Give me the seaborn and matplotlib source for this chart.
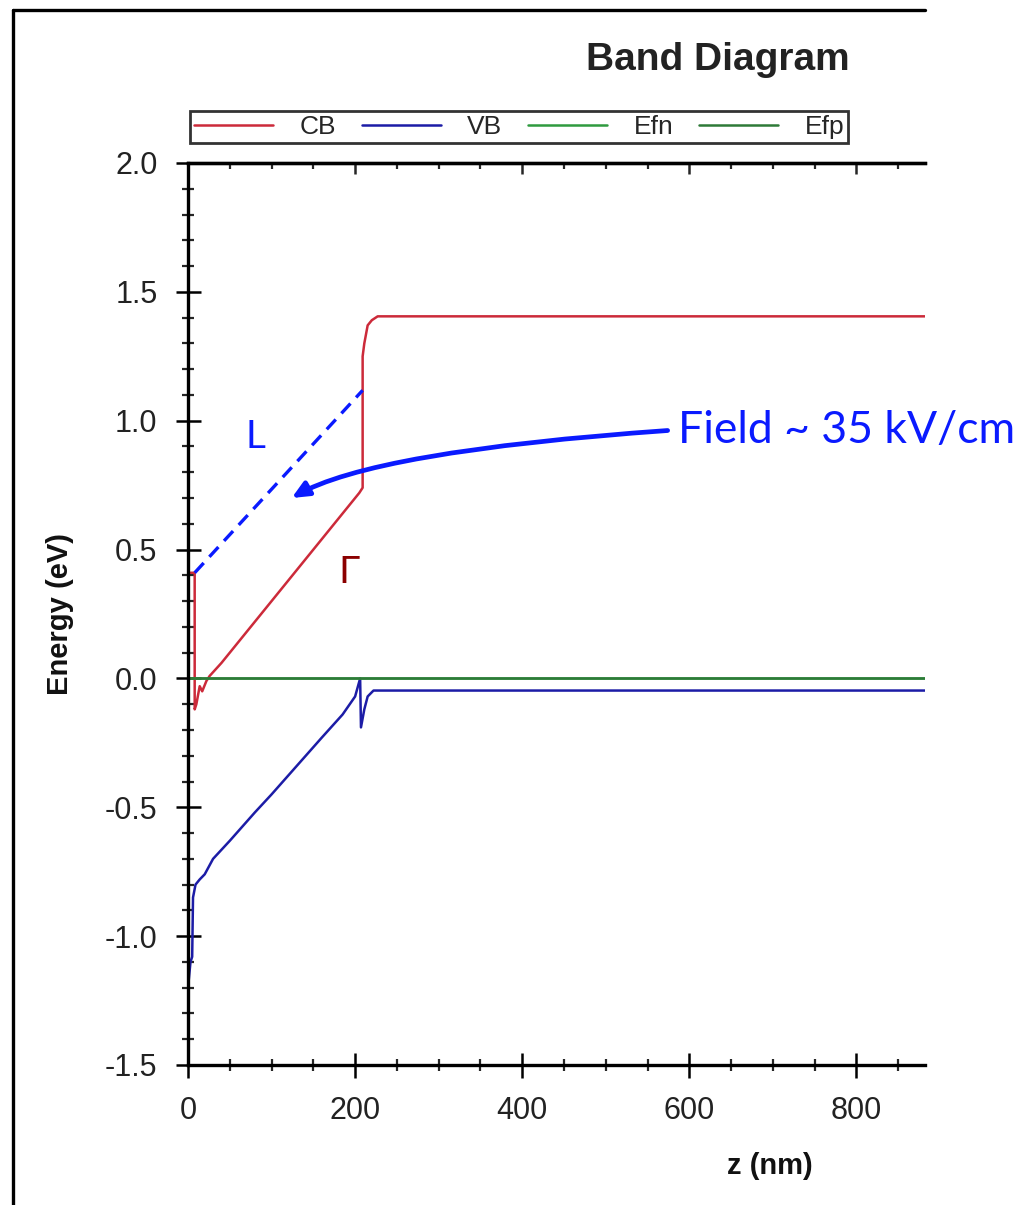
import matplotlib
matplotlib.use("Agg")
import matplotlib.pyplot as plt
from matplotlib.lines import Line2D
from matplotlib.ticker import MultipleLocator, FormatStrFormatter
import seaborn as sns
import pandas as pd

# ---------------- data ----------------
cb_z = [3, 8, 8, 10, 14, 17, 22, 26, 40, 60, 80, 100, 120, 140, 160, 180, 195, 205, 209,
        209, 211, 215, 220, 227, 882]
cb_e = [0.41, 0.41, -0.12, -0.10, -0.03, -0.05, -0.01, 0.01, 0.06, 0.14, 0.22, 0.30, 0.38,
        0.46, 0.54, 0.62, 0.68, 0.72, 0.74, 1.25, 1.30, 1.37, 1.39, 1.405, 1.405]

vb_z = [0, 3, 5, 6, 9, 14, 20, 30, 50, 80, 100, 130, 160, 185, 200, 206, 207, 211, 215, 222, 882]
vb_e = [-1.20, -1.10, -1.08, -0.85, -0.80, -0.78, -0.76, -0.70, -0.63, -0.52, -0.45, -0.34,
        -0.23, -0.14, -0.07, 0.0, -0.19, -0.12, -0.07, -0.047, -0.047]

efn_z = [0, 882]
efn_e = [0.0, 0.0]
efp_z = [0, 882]
efp_e = [0.0, 0.0]

series_names = ["CB", "VB", "Efn", "Efp"]
x_ticks = [0, 200, 400, 600, 800]
y_ticks = [-1.5, -1.0, -0.5, 0.0, 0.5, 1.0, 1.5, 2.0]

title_text = "Band Diagram"
xlabel_text = "z (nm)"
ylabel_text = "Energy (eV)"
field_text = "Field ~ 35 kV/cm"
l_text = "L"
gamma_text = "Γ"

# dashed "L" guide and field arrow (data coordinates)
l_line_z = [8, 209]
l_line_e = [0.41, 1.118]
arrow_tail = (574, 0.962)
arrow_head = (124, 0.70)

# ---------------- styling ----------------
sns.set_style("white")
NARROW = ["Liberation Sans Narrow", "Liberation Sans", "DejaVu Sans"]
plt.rcParams["font.family"] = NARROW
plt.rcParams["axes.unicode_minus"] = False

colors = {"CB": "#cc2a3a", "VB": "#1c1ca6", "Efn": "#2f9a3f", "Efp": "#2e7a38"}

fig = plt.figure(figsize=(10.29, 12.05), dpi=100)
ax = fig.add_axes([188 / 1029, 1 - 1065 / 1205, (925 - 188) / 1029, (1065 - 163) / 1205])

frames = []
for name, z, e in [("CB", cb_z, cb_e), ("VB", vb_z, vb_e), ("Efn", efn_z, efn_e), ("Efp", efp_z, efp_e)]:
    frames.append(pd.DataFrame({"z": z, "E": e, "series": name}))
df = pd.concat(frames, ignore_index=True)

for name in series_names:
    sub = df[df["series"] == name]
    sns.lineplot(data=sub, x="z", y="E", ax=ax, color=colors[name], lw=1.8,
                 estimator=None, sort=False, label=name, legend=False)

ax.set_xlim(0, 882)
ax.set_ylim(-1.5, 2.0)

ax.spines["right"].set_visible(False)
for s in ["left", "bottom", "top"]:
    ax.spines[s].set_linewidth(2.4)
    ax.spines[s].set_color("black")

ax.xaxis.set_major_locator(MultipleLocator(200))
ax.xaxis.set_minor_locator(MultipleLocator(50))
ax.yaxis.set_major_locator(MultipleLocator(0.5))
ax.yaxis.set_minor_locator(MultipleLocator(0.1))
ax.yaxis.set_major_formatter(FormatStrFormatter("%.1f"))
ax.set_xticks(x_ticks)
ax.set_yticks(y_ticks)

ax.tick_params(axis="both", which="major", direction="inout", length=18, width=1.8,
               labelsize=22, colors="black", left=True, bottom=True,
               top=False, right=False)
ax.tick_params(axis="y", which="major", pad=13)
ax.tick_params(axis="x", which="major", pad=13)
ax.tick_params(axis="both", which="minor", direction="inout", length=9, width=1.6,
               left=True, bottom=True, top=False, right=False)
for lab in ax.get_xticklabels() + ax.get_yticklabels():
    lab.set_color("#222222")

sec = ax.secondary_xaxis("top")
sec.xaxis.set_major_locator(MultipleLocator(200))
sec.xaxis.set_minor_locator(MultipleLocator(50))
sec.tick_params(which="major", direction="in", length=8, width=1.8, labeltop=False, top=True)
sec.tick_params(which="minor", direction="in", length=4, width=1.6, top=True)
sec.spines["top"].set_linewidth(2.4)

ax.set_xlabel(xlabel_text, fontsize=21, fontweight="bold", color="#111111")
ax.xaxis.set_label_coords((770 - 188) / (925 - 188), -0.096)
ax.set_ylabel(ylabel_text, fontsize=21, fontweight="bold", color="#111111", labelpad=22)

fig.text(718 / 1029, 1 - 60 / 1205, title_text, fontsize=28, fontweight="bold",
         ha="center", va="center", color="#222222")

handles = [Line2D([], [], color=colors[n], lw=1.8) for n in series_names]
leg = fig.legend(handles, series_names, loc="lower left", ncol=4, mode="expand",
                 bbox_to_anchor=(190 / 1029, 1 - 143 / 1205, (848 - 190) / 1029, 36 / 1205),
                 fontsize=19, frameon=True, fancybox=False, handlelength=3.0,
                 borderaxespad=0, borderpad=0.15, handletextpad=1.0)
leg.get_frame().set_edgecolor("black")
leg.get_frame().set_linewidth(2.0)

# annotations
ANN = ["Lato", "DejaVu Sans"]
ax.plot(l_line_z, l_line_e, color="#0a1aff", lw=2.4, ls=(0, (4, 2.5)), clip_on=False)
ax.text(81, 0.935, l_text, color="#0a1aff", fontsize=28, family=ANN, ha="center", va="center")
ax.text(193, 0.41, gamma_text, color="#8b0000", fontsize=27, family=["DejaVu Sans"],
        ha="center", va="center")
ax.annotate("", xy=arrow_head, xytext=arrow_tail, annotation_clip=False,
            arrowprops=dict(arrowstyle="-|>,head_length=1.0,head_width=0.45", color="#0a1aff",
                            lw=3.4, connectionstyle="angle3,angleA=4,angleB=30",
                            shrinkA=0, shrinkB=0))
ax.text(586, 0.962, field_text, color="#0a1aff", fontsize=32, family=ANN,
        ha="left", va="center", clip_on=False)

# outer screenshot frame
fig.add_artist(Line2D([13 / 1029, 13 / 1029], [0, 1 - 10 / 1205], transform=fig.transFigure,
                      color="black", lw=2.4))
fig.add_artist(Line2D([13 / 1029, 925 / 1029], [1 - 10 / 1205, 1 - 10 / 1205],
                      transform=fig.transFigure, color="black", lw=2.4))

fig.savefig("out.png", dpi=100)
